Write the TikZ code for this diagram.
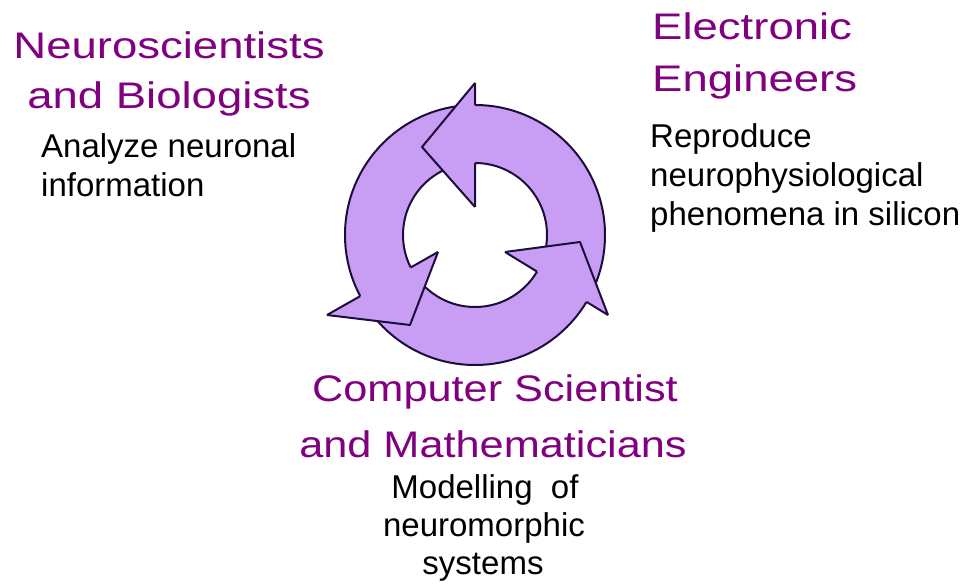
\documentclass[tikz,border=0pt]{standalone}
\usepackage{graphicx}
\usepackage{fontspec}
\setmainfont{Liberation Sans}
\definecolor{ringfill}{RGB}{200,158,245}
\definecolor{ringline}{RGB}{30,12,60}
\definecolor{headtxt}{RGB}{128,0,128}

\begin{document}
\begin{tikzpicture}[x=1pt,y=-1pt,
  role/.style={inner sep=0pt, text=headtxt, font=\fontsize{37}{44}\selectfont},
  task/.style={inner sep=0pt, text=black, font=\fontsize{33}{40}\selectfont},
  outline/.style={draw=ringline, line width=2pt, line join=round}]
\useasboundingbox (0,0) rectangle (967,585);

% cycle: a ring with three arrowheads pointing counter-clockwise
\coordinate (c) at (475,235);
\fill[ringfill, even odd rule] (c) circle[radius=130] (c) circle[radius=72];
\draw[outline] (c) circle[radius=130];
\draw[outline] (c) circle[radius=72];

% arrowhead corners: outer barb, tip, inner barb
\coordinate (tO) at (475,83);  \coordinate (tT) at (422,147); \coordinate (tI) at (475,207);
\coordinate (lO) at (327,315); \coordinate (lT) at (410,325); \coordinate (lI) at (438,252);
\coordinate (rO) at (608,315); \coordinate (rT) at (580,242); \coordinate (rI) at (505,252);

\fill[ringfill] (tO) -- (tT) -- (tI) -- cycle;
\fill[ringfill] (lO) -- (lT) -- (lI) -- cycle;
\fill[ringfill] (rO) -- (rT) -- (rI) -- cycle;
\draw[outline] (tO) -- (tT) -- (tI);
\draw[outline] (lO) -- (lT) -- (lI);
\draw[outline] (rO) -- (rT) -- (rI);

% base edges of the heads, only where they stick out of the ring
\begin{scope}[even odd rule]
  \clip (-10,-10) rectangle (980,600)
        (c) circle[radius=130] (c) circle[radius=72];
  \draw[outline] (tO) -- (tI) (lO) -- (lI) (rO) -- (rI);
\end{scope}

% labels
\node[role, anchor=base] (neuro1) at (169,59) {\scalebox{1.23}[1]{Neuroscientists}};
\node[role, anchor=base] (neuro2) at (169,109) {\scalebox{1.23}[1]{and Biologists}};
\node[task, anchor=base west] (neurotask1) at (41,158) {Analyze neuronal};
\node[task, anchor=base west] (neurotask2) at (41,197) {information};

\node[role, anchor=base west] (elec1) at (652,40) {\scalebox{1.23}[1]{Electronic}};
\node[role, anchor=base west] (elec2) at (652,92) {\scalebox{1.23}[1]{Engineers}};
\node[task, anchor=base west] (electask1) at (650,148) {Reproduce};
\node[task, anchor=base west] (electask2) at (650,187) {neurophysiological};
\node[task, anchor=base west] (electask3) at (650,226) {phenomena in silicon};

\node[role, anchor=base] (comp1) at (495,402) {\scalebox{1.17}[1]{Computer Scientist}};
\node[role, anchor=base] (comp2) at (493,457) {\scalebox{1.17}[1]{and Mathematicians}};
\node[task, anchor=base] (comptask1) at (485,498) {Modelling\ \ of};
\node[task, anchor=base] (comptask2) at (484,536) {neuromorphic};
\node[task, anchor=base] (comptask3) at (483,574) {systems};
\end{tikzpicture}
\end{document}
